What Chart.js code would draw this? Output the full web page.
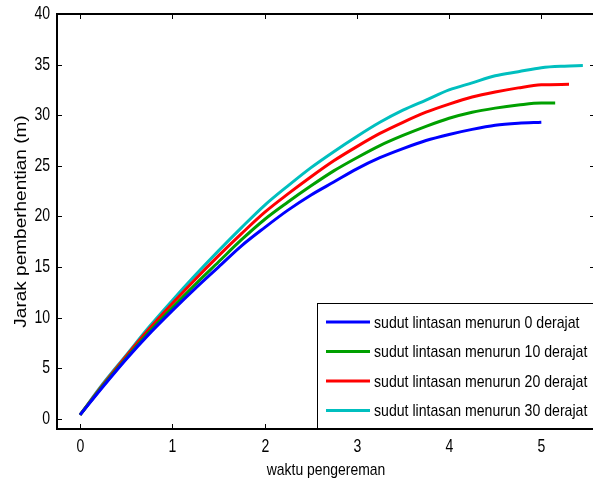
<!DOCTYPE html>
<html>
<head>
<meta charset="utf-8">
<script src="https://cdn.jsdelivr.net/npm/chart.js@4.4.0/dist/chart.umd.min.js"></script>
<style>
  body { margin: 0; background: #fff; }
  canvas { display: block; }
</style>
</head>
<body>
<canvas id="jarak-Chart" width="593" height="486"></canvas>
<script>
// waktu pengereman (s), sama untuk semua garis
const waktu = [0, 0.25, 0.5, 0.75, 1, 1.25, 1.5, 1.75, 2, 2.25, 2.5, 2.75, 3, 3.25, 3.5, 3.75, 4, 4.25, 4.5, 4.75, 5];

const jarak0 = [0.4, 3.2, 5.9, 8.4, 10.7, 12.9, 15.0, 17.1, 18.9, 20.6, 22.1, 23.4, 24.7, 25.8, 26.7, 27.5, 28.1, 28.6, 29.0, 29.2, 29.3];
const jarak10 = [0.4, 3.3, 6.0, 8.6, 11.0, 13.3, 15.5, 17.7, 19.7, 21.4, 23.0, 24.5, 25.8, 27.0, 28.0, 28.9, 29.7, 30.3, 30.7, 31.0, 31.2];
const jarak20 = [0.4, 3.4, 6.2, 8.9, 11.4, 13.8, 16.1, 18.3, 20.4, 22.2, 23.9, 25.5, 26.9, 28.2, 29.3, 30.3, 31.1, 31.8, 32.3, 32.7, 33.0];
const jarak30 = [0.4, 3.5, 6.3, 9.1, 11.7, 14.2, 16.6, 18.9, 21.1, 23.0, 24.8, 26.4, 27.9, 29.3, 30.5, 31.5, 32.5, 33.2, 33.9, 34.3, 34.7];

// ujung garis setelah t = 5
const ujungT10 = [5.15], ujungY10 = [31.2];
const ujungT20 = [5.3], ujungY20 = [33.05];
const ujungT30 = [5.25, 5.45], ujungY30 = [34.85, 34.9];

const labels = [
  "sudut lintasan menurun 0 derajat",
  "sudut lintasan menurun 10 derajat",
  "sudut lintasan menurun 20 derajat",
  "sudut lintasan menurun 30 derajat",
];
const warna = ["#0000FF", "#00A000", "#FF0000", "#00BFBF"];

const xTicks = [0, 1, 2, 3, 4, 5];
const yTicks = [0, 5, 10, 15, 20, 25, 30, 35, 40];
const judulX = "waktu pengereman";
const judulY = "Jarak pemberhentian (m)";

const huruf = "'Liberation Sans', Arial, sans-serif";

function titik(t, y, tT, tY) {
  const pts = t.map((v, i) => ({ x: v, y: y[i] }));
  (tT || []).forEach((v, i) => pts.push({ x: v, y: tY[i] }));
  return pts;
}

const data = {
  datasets: [
    { label: labels[0], data: titik(waktu, jarak0) },
    { label: labels[1], data: titik(waktu, jarak10, ujungT10, ujungY10) },
    { label: labels[2], data: titik(waktu, jarak20, ujungT20, ujungY20) },
    { label: labels[3], data: titik(waktu, jarak30, ujungT30, ujungY30) },
  ].map((d, i) => ({
    ...d,
    borderColor: warna[i],
    backgroundColor: warna[i],
    borderWidth: 3,
    pointRadius: 0,
    cubicInterpolationMode: "monotone",
  })),
};

// teks dipersempit seperti gambar aslinya
function tulis(ctx, teks, x, y, align, sx) {
  ctx.save();
  ctx.translate(x, y);
  ctx.scale(sx, 1);
  ctx.textAlign = align;
  ctx.fillText(teks, 0, 0);
  ctx.restore();
}

// kotak sumbu, tick ke dalam, label, legenda di dalam plot
const bingkai = {
  id: "bingkai",
  afterDatasetsDraw(chart) {
    const { ctx, chartArea: a, scales } = chart;
    const kanan = a.right + 2; // sisi kanan sumbu sedikit di luar gambar
    const garis = (x1, y1, x2, y2) => {
      ctx.beginPath(); ctx.moveTo(x1, y1); ctx.lineTo(x2, y2); ctx.stroke();
    };
    ctx.save();
    ctx.strokeStyle = "#000";
    ctx.fillStyle = "#000";
    ctx.lineWidth = 1;
    ctx.textBaseline = "middle";
    ctx.font = "18px " + huruf;
    xTicks.forEach((v) => {
      const x = Math.round(scales.x.getPixelForValue(v)) + 0.5;
      garis(x, a.bottom, x, a.bottom - 5);
      garis(x, a.top, x, a.top + 5);
      tulis(ctx, String(v), x, a.bottom + 18, "center", 0.78);
    });
    yTicks.forEach((v) => {
      const y = Math.round(scales.y.getPixelForValue(v)) + 0.5;
      garis(a.left, y, a.left + 5, y);
      garis(kanan, y, kanan - 5, y);
      tulis(ctx, String(v), a.left - 7, y, "right", 0.78);
    });
    ctx.lineWidth = 2;
    ctx.strokeRect(a.left, a.top, kanan - a.left, a.bottom - a.top);

    // judul sumbu
    ctx.font = "17px " + huruf;
    tulis(ctx, judulX, (a.left + a.right) / 2 + 1, a.bottom + 41, "center", 0.82);
    ctx.save();
    ctx.font = "19px " + huruf;
    ctx.translate(22, (a.top + a.bottom) / 2);
    ctx.rotate(-Math.PI / 2);
    ctx.scale(1, 0.82);
    ctx.textAlign = "center";
    ctx.fillText(judulY, 0, 0);
    ctx.restore();

    // legenda
    const lx = a.left + 260, ly = a.bottom - 126;
    ctx.fillStyle = "#fff";
    ctx.fillRect(lx, ly, kanan - lx + 10, a.bottom - ly);
    ctx.lineWidth = 1;
    ctx.strokeRect(lx + 0.5, ly + 0.5, kanan - lx + 10, a.bottom - ly);
    ctx.lineWidth = 2;
    garis(lx, a.bottom, kanan, a.bottom);
    ctx.font = "17px " + huruf;
    chart.data.datasets.forEach((d, i) => {
      const y = ly + 19 + i * 29.5;
      ctx.strokeStyle = d.borderColor;
      ctx.lineWidth = 3;
      garis(lx + 9, y, lx + 53, y);
      ctx.fillStyle = "#000";
      tulis(ctx, d.label, lx + 57, y + 1, "left", 0.83);
    });
    ctx.restore();
  },
};

const config = {
  type: "line",
  data: data,
  options: {
    responsive: false,
    animation: false,
    layout: { padding: { top: 14, right: 0, left: 0, bottom: 0 } },
    plugins: {
      legend: { display: false },
      tooltip: { enabled: false },
    },
    scales: {
      x: {
        type: "linear",
        min: -0.25,
        max: 5.56,
        afterBuildTicks: (s) => { s.ticks = xTicks.map((v) => ({ value: v })); },
        afterFit: (s) => { s.height = 57; },
        grid: { display: false, drawTicks: false },
        border: { display: false },
        ticks: { display: false },
      },
      y: {
        type: "linear",
        min: -1,
        max: 40,
        afterBuildTicks: (s) => { s.ticks = yTicks.map((v) => ({ value: v })); },
        afterFit: (s) => { s.width = 57; },
        grid: { display: false, drawTicks: false },
        border: { display: false },
        ticks: { display: false },
      },
    },
  },
  plugins: [bingkai],
};

let myChart = new Chart(document.getElementById("jarak-Chart"), config);
</script>
</body>
</html>
